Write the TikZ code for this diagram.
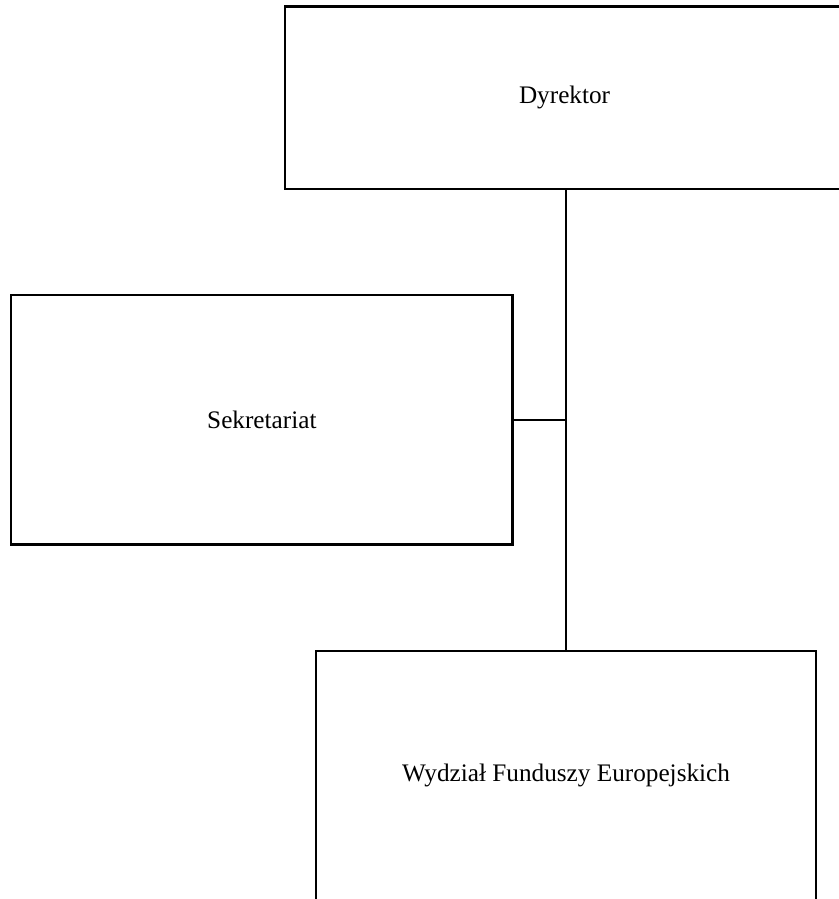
\documentclass[tikz,border=0pt]{standalone}
\usepackage{fontspec}
\setmainfont{Liberation Serif}
\usetikzlibrary{positioning}

\begin{document}
\begin{tikzpicture}[
            unit/.style={
                draw,
                line width=2pt,
                align=center,
                font=\fontsize{19}{23}\selectfont
            },
            link/.style={
                line width=2pt
            }
        ]
        \useasboundingbox (0,0) rectangle (22.2,-23.79);
        \clip (0,0) rectangle (22.2,-23.79);

        \node[unit, minimum width=14.80cm, minimum height=4.82cm] (dyrektor) at (14.94,-2.59) {Dyrektor};
        \node[unit, minimum width=13.28cm, minimum height=6.61cm] (sekretariat) at (6.93,-11.11) {Sekretariat};
        \node[unit, minimum width=13.23cm, minimum height=6.61cm] (wydzial) at (14.98,-20.53) {Wydział Funduszy Europejskich};

        \draw[link] (wydzial.north |- dyrektor.south) -- (wydzial.north);
        \draw[link] (sekretariat.east) -- (sekretariat.east -| wydzial.north);
        \end{tikzpicture}
\end{document}
